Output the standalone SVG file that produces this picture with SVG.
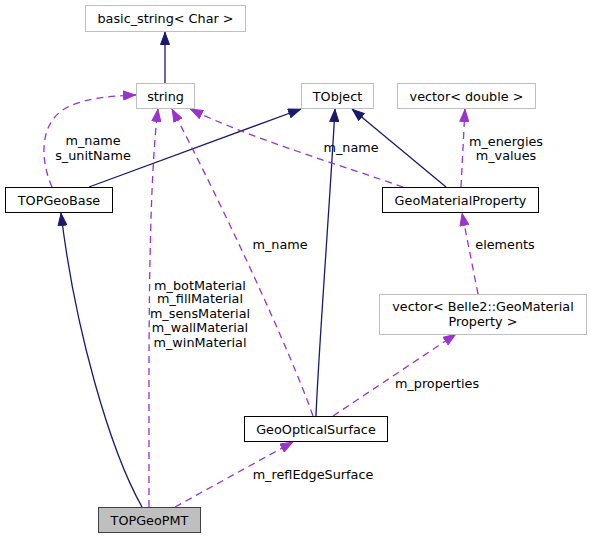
<svg xmlns="http://www.w3.org/2000/svg" width="591" height="539" viewBox="0 0 591 539">
<style>
text{font-family:"DejaVu Sans",sans-serif;font-size:12.8px;fill:#000;text-anchor:middle}
.ext{fill:#fff;stroke:#bfbfbf;stroke-width:1}
.doc{fill:#fff;stroke:#000;stroke-width:1}
.cur{fill:#bfbfbf;stroke:#404040;stroke-width:1}
.inh{fill:none;stroke:#191970;stroke-width:1.3}
.use{fill:none;stroke:#9a32cd;stroke-width:1.3;stroke-dasharray:7,5}
</style>
<defs>
<marker id="an" viewBox="0 0 13 10" refX="13" refY="5" markerWidth="13" markerHeight="10" markerUnits="userSpaceOnUse" orient="auto"><path d="M0.5,0.5 L12.5,5 L0.5,9.5 z" fill="#191970" stroke="#191970"/></marker>
<marker id="ap" viewBox="0 0 13 10" refX="13" refY="5" markerWidth="13" markerHeight="10" markerUnits="userSpaceOnUse" orient="auto"><path d="M0.5,0.5 L12.5,5 L0.5,9.5 z" fill="#9a32cd" stroke="#9a32cd"/></marker>
</defs>
<g id="connectors">
<path class="inh" d="M165,83 L165,32" marker-end="url(#an)"/>
<path class="inh" d="M89,187 L301,109" marker-end="url(#an)"/>
<path class="inh" d="M446,187 L352,109" marker-end="url(#an)"/>
<path class="inh" d="M316,416 C318,360 330,200 335,109" marker-end="url(#an)"/>
<path class="inh" d="M142,507 C110,450 75,330 61,213" marker-end="url(#an)"/>
<path class="use" d="M52,187 C40,160 38,120 70,106 C88,98 110,96 136,95" marker-end="url(#ap)"/>
<path class="use" d="M149,507 L149,380 C149,300 150,170 158,109" marker-end="url(#ap)"/>
<path class="use" d="M313,416 C290,350 220,200 172,109" marker-end="url(#ap)"/>
<path class="use" d="M403,187 C340,165 250,138 190,109" marker-end="url(#ap)"/>
<path class="use" d="M461,187 L465,109" marker-end="url(#ap)"/>
<path class="use" d="M478,294 L462,213" marker-end="url(#ap)"/>
<path class="use" d="M333,416 L456,334" marker-end="url(#ap)"/>
<path class="use" d="M175,507 L293,442" marker-end="url(#ap)"/>
<text x="93" y="144.5">m_name</text>
<text x="93" y="159.5">s_unitName</text>
<text x="200" y="289.5">m_botMaterial</text>
<text x="200" y="303">m_fillMaterial</text>
<text x="200" y="318">m_sensMaterial</text>
<text x="200" y="332">m_wallMaterial</text>
<text x="200" y="346.5">m_winMaterial</text>
<text x="280" y="248.5">m_name</text>
<text x="351" y="151.5">m_name</text>
<text x="506" y="145.5">m_energies</text>
<text x="506" y="159.5">m_values</text>
<text x="505" y="248.5">elements</text>
<text x="437" y="387.5">m_properties</text>
<text x="313" y="478.5">m_reflEdgeSurface</text>
</g>
<g id="basic_string"><rect class="ext" x="85.5" y="5.5" width="160" height="26"/><text x="165.5" y="23">basic_string&lt; Char &gt;</text></g>
<g id="string"><rect class="ext" x="136.5" y="83.5" width="58" height="25"/><text x="165.5" y="100.5">string</text></g>
<g id="TObject"><rect class="ext" x="301.5" y="83.5" width="72" height="25"/><text x="337.5" y="100.5">TObject</text></g>
<g id="vector_double"><rect class="ext" x="397.5" y="83.5" width="138" height="25"/><text x="466.5" y="100.5">vector&lt; double &gt;</text></g>
<g id="TOPGeoBase"><rect class="doc" x="5.5" y="187.5" width="107" height="25"/><text x="59" y="204.5">TOPGeoBase</text></g>
<g id="GeoMaterialProperty"><rect class="doc" x="382.5" y="187.5" width="156" height="25"/><text x="460.5" y="204.5">GeoMaterialProperty</text></g>
<g id="vector_GeoMaterialProperty"><rect class="ext" x="379.5" y="294.5" width="207" height="40"/><text x="483" y="311">vector&lt; Belle2::GeoMaterial</text><text x="483" y="325.5">Property &gt;</text></g>
<g id="GeoOpticalSurface"><rect class="doc" x="244.5" y="416.5" width="143" height="25"/><text x="316" y="433.5">GeoOpticalSurface</text></g>
<g id="TOPGeoPMT"><rect class="cur" x="98.5" y="507.5" width="102" height="25"/><text x="149.5" y="524.5">TOPGeoPMT</text></g>
</svg>
